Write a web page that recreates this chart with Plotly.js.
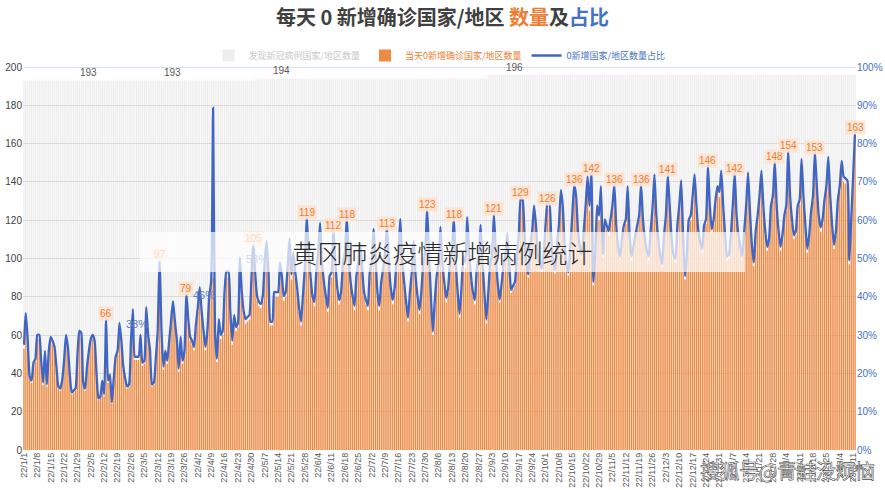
<!DOCTYPE html>
<html><head><meta charset="utf-8">
<script src="https://cdn.plot.ly/plotly-3.0.1.min.js"></script>
<style>
html,body{margin:0;padding:0;background:#fff;}
#wrap{position:relative;width:885px;height:490px;overflow:hidden;}
#chart{width:885px;height:490px;}
#overlay{position:absolute;left:140px;top:232px;width:605px;height:40px;background:rgba(255,255,255,0.7);
 font-family:"Noto Sans CJK SC",sans-serif;font-size:25px;color:#2a2a2a;text-align:center;line-height:40px;font-weight:300;}
#mark{position:absolute;left:700px;top:456px;font-family:"Noto Sans CJK SC",sans-serif;font-size:20px;color:#fff;
 -webkit-text-stroke:0.6px #505050;white-space:nowrap;letter-spacing:-0.5px;}
</style></head><body>
<div id="wrap"><div id="chart"></div><div id="overlay">黄冈肺炎疫情新增病例统计</div><div id="mark">搜狐号@青蛙没烦恼</div></div>
<script>
// daily values from 2022-01-01 (Sat) to 2023-03-12 (Sun)
const startYear = 2022;
const orange = [
53,69,55,37,35,44,46,
58,58,45,34,50,33,50,
57,55,52,42,32,31,35,
45,58,52,38,29,30,31,
48,60,59,34,31,42,50,
56,58,55,38,26,27,35,
28,66,35,38,24,36,47,
50,64,55,42,36,32,33,
55,71,47,47,47,58,44,
45,72,58,50,33,34,46,
60,97,60,42,50,45,55,
65,75,65,56,41,57,45,
50,79,66,57,55,52,63,
72,82,70,60,52,60,78,
85,90,60,46,66,58,60,
80,90,90,70,55,68,62,
64,97,80,70,66,67,68,
85,105,90,78,75,74,78,
95,106,90,65,65,80,80,
80,95,88,78,80,92,107,
89,100,90,82,72,65,78,
92,119,100,88,78,75,90,
100,115,95,85,78,72,88,
90,112,95,82,76,80,95,
100,118,98,85,78,73,88,
95,105,92,80,76,73,90,
95,112,98,80,73,85,92,
100,113,95,82,76,82,95,
100,117,95,85,75,67,80,
90,106,88,78,71,80,95,
100,123,100,78,60,75,88,
95,113,95,85,77,82,95,
100,118,95,80,69,82,98,
95,118,100,88,80,76,92,
98,114,95,80,66,80,95,
100,121,100,85,77,85,95,
100,111,95,82,84,86,100,
110,129,128,110,95,90,105,
112,125,115,100,95,93,100,
115,126,126,108,96,92,105,
115,133,125,105,95,91,105,
120,136,130,112,104,100,112,
125,140,125,142,86,100,125,
120,135,100,118,115,112,118,
125,136,115,104,99,108,115,
118,135,110,99,104,110,115,
120,136,118,108,102,99,112,
124,141,120,108,100,95,110,
120,141,125,108,100,98,115,
125,138,110,89,100,118,120,
130,141,125,112,106,103,115,
118,146,125,113,118,128,135,
132,143,125,110,99,100,110,
125,142,120,110,104,99,112,
125,142,122,105,96,112,120,
130,143,125,112,104,108,125,
130,148,125,112,104,110,120,
125,154,130,118,110,112,125,
128,149,130,115,103,110,122,
130,153,135,120,114,118,128,
135,150,130,115,105,112,128,
135,148,140,139,138,97,118,
140,163
];
// countries with reported cases: [value, number of days]
const greyRuns = [[193,121],[194,122],[196,193]];
// one anomalous day in the share series
const pctSpikeDay = 99;
const pctSpikeValue = 0.893;
// labelled points
const orangeLabelDays = [43,71,85,120,148,162,169,190,211,225,246,260,274,288,297,309,323,337,358,372,393,400,414,435];
const greyLabelDays = [34,78,135,257];
const pctLabels = ['38%','46%','53%'];
const pctLabelDays = [59,94,122];
const pctLabelY = [66,81,100];

const dates = [];
for (let i = 0; i < orange.length; i++) {
  const d = new Date(Date.UTC(startYear, 0, 1 + i));
  dates.push(String(d.getUTCFullYear()).slice(2) + '/' + (d.getUTCMonth() + 1) + '/' + d.getUTCDate());
}
const grey = [];
greyRuns.forEach(function (r) { for (let k = 0; k < r[1]; k++) grey.push(r[0]); });
const pct = orange.map(function (v, i) { return v / grey[i]; });
pct[pctSpikeDay] = pctSpikeValue;
const tickVals = dates.filter(function (_, i) { return i % 7 === 0; });

const ORANGE = '#ef8a42', BLUE = '#3f66c4';
const traces = [
  {type:'bar', x:dates, y:grey, name:'发现新冠病例国家/地区数量',
   marker:{color:'rgba(218,218,218,0.45)'}, hoverinfo:'skip'},
  {type:'bar', x:dates, y:orange, name:'<span style="color:#ed7d31">当天0新增确诊国家/地区数量</span>',
   marker:{color:ORANGE}},
  {type:'scatter', mode:'lines', x:dates, y:pct, yaxis:'y2', name:'<span style="color:#4472c4">0新增国家/地区数量占比</span>',
   line:{color:BLUE, width:2.3, shape:'spline', smoothing:0.5}}
];

const ann = [];
orangeLabelDays.forEach(function (d) {
  ann.push({x:dates[d], y:orange[d], xref:'x', yref:'y', text:String(orange[d]), showarrow:false,
    yanchor:'middle', yshift:10, font:{size:10, color:'#ed7d31'}, bgcolor:'rgba(252,226,208,0.9)', borderpad:1});
});
greyLabelDays.forEach(function (d) {
  ann.push({x:dates[d], y:grey[d], xref:'x', yref:'y', text:String(grey[d]), showarrow:false,
    yanchor:'bottom', yshift:0, font:{size:10, color:'#595959'}});
});
pctLabels.forEach(function (t, k) {
  ann.push({x:dates[pctLabelDays[k]], y:pctLabelY[k], xref:'x', yref:'y', text:t, showarrow:false,
    font:{size:11, color:'#5b7cc4'}});
});

const layout = {
  width:885, height:490,
  margin:{l:23, r:29, t:67, b:40, pad:0},
  paper_bgcolor:'#fff', plot_bgcolor:'#fff',
  font:{family:'"Liberation Sans", "Noto Sans CJK SC", sans-serif', color:'#404040'},
  title:{text:'每天 0 新增确诊国家/地区 <span style="color:#ed7d31">数量</span>及<span style="color:#4472c4">占比</span>',
    x:0.5, xanchor:'center', y:0.963, yanchor:'middle',
    font:{family:'"Noto Sans CJK SC", sans-serif', size:20, color:'#404040', weight:'bold'}},
  barmode:'overlay', bargap:0.3,
  showlegend:true,
  legend:{orientation:'h', x:0.5, xanchor:'center', y:1.03, yanchor:'middle',
    font:{size:9, color:'#c8c8c8', family:'"Noto Sans CJK SC", sans-serif'}, bgcolor:'rgba(0,0,0,0)', itemwidth:30,
    traceorder:'normal'},
  xaxis:{type:'category', range:[-0.5, orange.length - 0.5], tickmode:'array', tickvals:tickVals, ticktext:tickVals,
    tickangle:-90, tickfont:{size:9, color:'#595959'}, showgrid:false, ticks:'', showline:false, automargin:false, fixedrange:true},
  yaxis:{range:[0,200], dtick:20, gridcolor:'#dcdcdc', gridwidth:1, zeroline:false, ticks:'',
    tickfont:{size:10, color:'#404040'}, automargin:false, showline:false},
  yaxis2:{overlaying:'y', side:'right', range:[0,1], dtick:0.1, tickformat:'.0%', showgrid:false, zeroline:false,
    ticks:'', tickfont:{size:10, color:'#4472c4'}, automargin:false},
  shapes:[{type:'line', xref:'paper', yref:'y', x0:0, x1:1, y0:200, y1:200, line:{color:'#a9c2e6', width:1}}],
  annotations:ann
};
Plotly.newPlot('chart', traces, layout, {displayModeBar:false, staticPlot:true});
</script>
</body></html>
